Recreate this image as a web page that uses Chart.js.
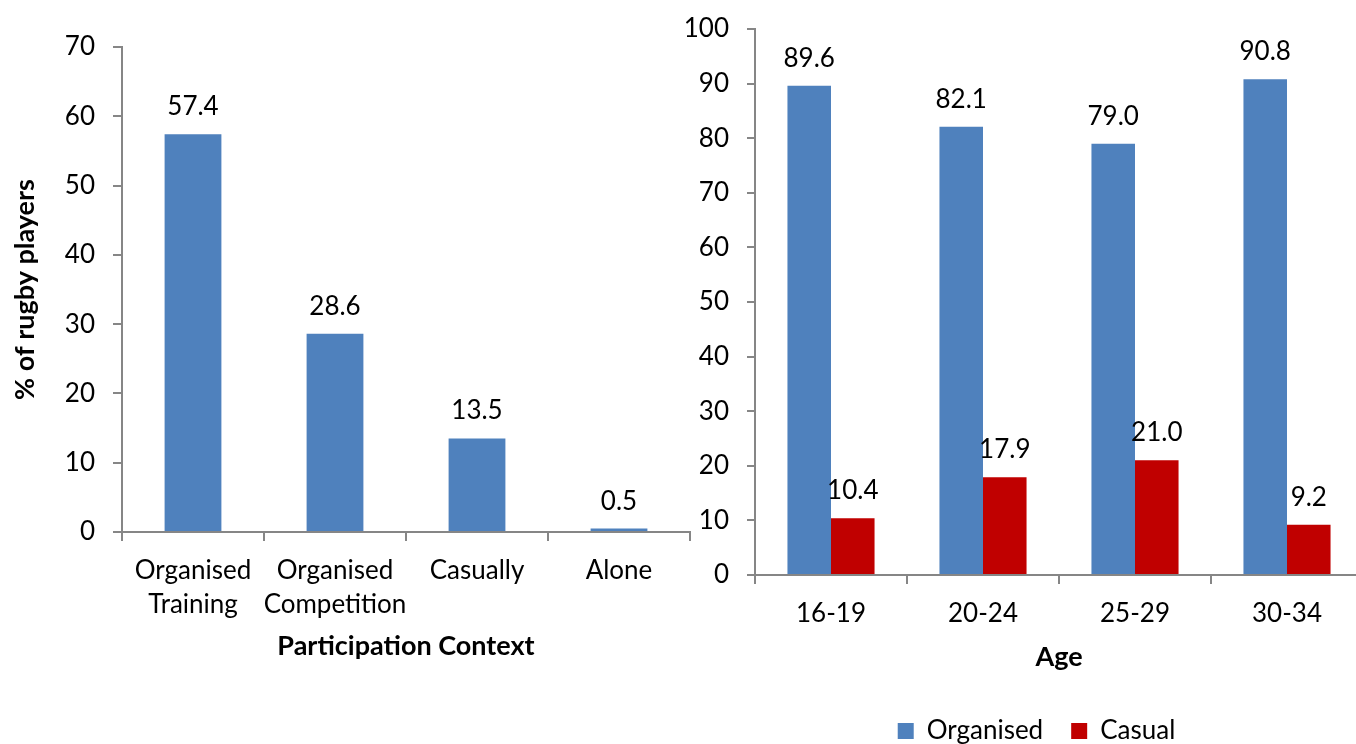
<!DOCTYPE html>
<html>
<head>
<meta charset="utf-8">
<script src="https://cdn.jsdelivr.net/npm/chart.js@4/dist/chart.umd.min.js"></script>
<style>
  html, body { margin:0; padding:0; background:#fff; overflow:hidden; width:1356px; height:744px; }
  #wrapL { position:absolute; left:0; top:0; width:700px; height:744px; }
  #wrapR { position:absolute; left:640px; top:0; width:723px; height:754px; }
</style>
</head>
<body>
<div id="wrapL"><canvas id="cL"></canvas></div>
<div id="wrapR"><canvas id="cR"></canvas></div>
<script>
// ---- data ----
const contextCategories = [["Organised","Training"],["Organised","Competition"],"Casually","Alone"];
const contextValues = [57.4, 28.6, 13.5, 0.5];
const ageCategories = ["16-19","20-24","25-29","30-34"];
const organisedValues = [89.6, 82.1, 79.0, 90.8];
const casualValues = [10.4, 17.9, 21.0, 9.2];
const leftYMax = 70;
const rightYMax = 100;
const yStep = 10;

const FONT = 'Lato, Calibri, Carlito, sans-serif';
const AXIS = '#868686';
const BLUE = '#4F81BD';
const RED = '#C00000';
const FS = 26;

const valueLabels = {
  id: 'valueLabels',
  afterDatasetsDraw(chart) {
    const ctx = chart.ctx;
    ctx.save();
    ctx.font = FS + 'px ' + FONT;
    ctx.fillStyle = '#000';
    ctx.textAlign = 'center';
    ctx.textBaseline = 'alphabetic';
    chart.data.datasets.forEach((ds, di) => {
      const meta = chart.getDatasetMeta(di);
      meta.data.forEach((el, i) => {
        ctx.fillText(Number(ds.data[i]).toFixed(1), el.x, el.y - 19);
      });
    });
    ctx.restore();
  }
};

// nudge the legend so it is centred under the plot like the original
const legendNudge = {
  id: 'legendNudge',
  afterLayout(chart) {
    if (chart.legend) { chart.legend.left += 12; chart.legend.right += 12; }
  }
};

function axisCommon(tickLen) {
  return {
    border: { display: true, color: AXIS, width: 2 },
    grid: { display: true, drawOnChartArea: false, drawTicks: true, tickLength: tickLen, color: AXIS, lineWidth: 2 },
  };
}

new Chart(document.getElementById('cL'), {
  type: 'bar',
  data: {
    labels: contextCategories,
    datasets: [{ data: contextValues, backgroundColor: BLUE, barPercentage: 0.4, categoryPercentage: 1.0 }]
  },
  options: {
    responsive: true, maintainAspectRatio: false, animation: false,
    layout: { padding: { top: 47, left: 0, right: 10, bottom: 82 } },
    plugins: { legend: { display: false }, tooltip: { enabled: false } },
    scales: {
      x: Object.assign(axisCommon(9), {
        ticks: { color: '#000', font: { family: FONT, size: FS, lineHeight: 1.32 }, padding: 12, maxRotation: 0, autoSkip: false },
        title: { display: true, text: 'Participation Context', color: '#000', font: { family: FONT, size: 27, weight: 'bold' }, padding: { top: 0, bottom: 0 } },
        afterFit(s) { s.height = 130; }
      }),
      y: Object.assign(axisCommon(9), {
        min: 0, max: leftYMax,
        ticks: { stepSize: yStep, color: '#000', font: { family: FONT, size: FS }, padding: 18 },
        title: { display: true, text: '% of rugby players', color: '#000', font: { family: FONT, size: 27, weight: 'bold' }, padding: { top: 9, bottom: 0 } },
        afterFit(s) { s.width = 122; s.paddingTop = 0; }
      })
    }
  },
  plugins: [valueLabels]
});

new Chart(document.getElementById('cR'), {
  type: 'bar',
  data: {
    labels: ageCategories,
    datasets: [
      { label: 'Organised', data: organisedValues, backgroundColor: BLUE, barPercentage: 1.0, categoryPercentage: 0.573 },
      { label: 'Casual', data: casualValues, backgroundColor: RED, barPercentage: 1.0, categoryPercentage: 0.573 }
    ]
  },
  options: {
    responsive: true, maintainAspectRatio: false, animation: false,
    layout: { padding: { top: 29, left: 46, right: 0, bottom: 0 } },
    plugins: {
      legend: {
        display: true, position: 'bottom',
        labels: { color: '#000', font: { family: FONT, size: FS }, boxWidth: 16, boxHeight: 16, padding: 28 }
      },
      tooltip: { enabled: false }
    },
    scales: {
      x: Object.assign(axisCommon(9), {
        ticks: { color: '#000', font: { family: FONT, size: FS, lineHeight: 1.32 }, padding: 12, maxRotation: 0, autoSkip: false },
        title: { display: true, text: 'Age', color: '#000', font: { family: FONT, size: 27, weight: 'bold' }, padding: { top: 0, bottom: 17 } },
        afterFit(s) { s.height = 115; }
      }),
      y: Object.assign(axisCommon(8), {
        min: 0, max: rightYMax,
        ticks: { stepSize: yStep, color: '#000', font: { family: FONT, size: FS }, padding: 18 },
        afterFit(s) { s.width = 69; s.paddingTop = 0; }
      })
    }
  },
  plugins: [valueLabels, legendNudge]
});
</script>
</body>
</html>
